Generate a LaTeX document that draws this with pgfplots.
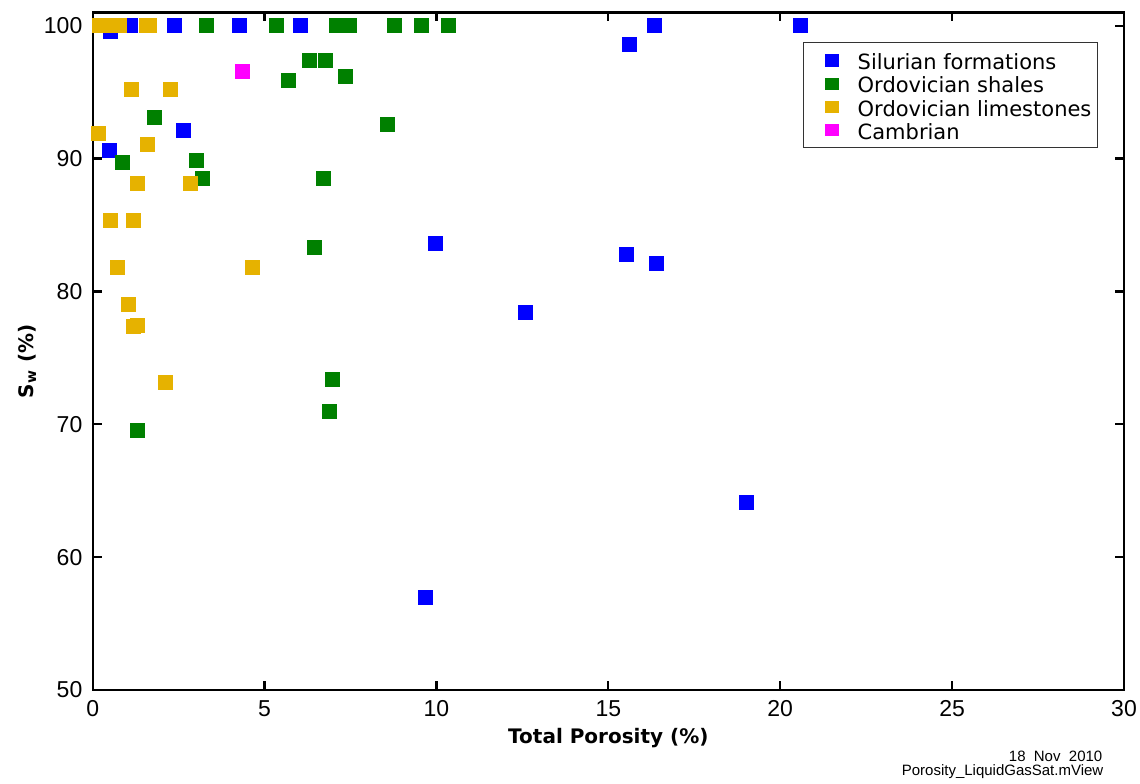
\documentclass[border=0pt]{standalone}
\usepackage{fontspec}
\setmainfont{Liberation Sans}
\newfontfamily\dejavu{DejaVu Sans}
\usepackage{pgfplots}
\pgfplotsset{compat=1.18}
\definecolor{silblue}{RGB}{0,0,255}
\definecolor{ordgreen}{RGB}{0,128,0}
\definecolor{ordorange}{RGB}{230,178,0}
\definecolor{cambmag}{RGB}{255,0,255}
\pgfplotsset{
  sq/.style={only marks, mark=square*, mark size=3.5pt, color=#1,
    mark options={fill=#1, draw=#1, line width=0.3pt},
    legend image code/.code={\path[draw=none,fill=none] (0pt,0pt) -- (22pt,0pt);
      \fill[#1, draw=none] (8.6pt,-3.1pt) rectangle (15.4pt,3.1pt);}},
}
\begin{document}
\begin{tikzpicture}
\useasboundingbox (-46.35pt,-46.5pt) rectangle (523.65pt,345pt);
\begin{axis}[
  at={(0,0)}, anchor=south west,
  scale only axis,
  width=515.65pt, height=338.8pt,
  xmin=0, xmax=30, ymin=50, ymax=101,
  xtick={0,5,...,30}, ytick={50,60,...,100},
  tick align=inside,
  xtick pos=both, ytick pos=both,
  xticklabel pos=lower, yticklabel pos=left,
  major tick length=4.5pt,
  every tick/.style={black, line width=1.1pt},
  axis line style={black, line width=1.2pt},
  /pgf/number format/assume math mode=true,
  tick label style={font=\fontsize{11.5}{12}\selectfont},
  yticklabel style={inner sep=0pt, xshift=-5pt},
  xticklabel style={inner sep=0pt, yshift=-5pt},
  xlabel={\dejavu\bfseries Total Porosity (\%)},
  xlabel style={at={(axis description cs:0.5,0)}, anchor=base, yshift=-26.5pt, inner sep=0pt, font=\fontsize{10}{12}\selectfont},
  ylabel={\dejavu\bfseries S\textsubscript{w} (\%)},
  ylabel style={at={(axis description cs:-0.0637,0.485)}, anchor=center, inner sep=0pt, font=\fontsize{10}{12}\selectfont},
  legend cell align=left,
  legend style={at={(0.9748,0.956)}, anchor=north east, draw=black!80, line width=0.6pt,
    fill=white, font=\dejavu\fontsize{10.5}{12}\selectfont,
    inner xsep=2pt, inner ysep=3.05pt, row sep=0pt, column sep=2pt,
    nodes={inner sep=1pt, text height=9.4pt, text depth=0.2pt}},
]
\addplot[sq=silblue] coordinates {
(0.5,99.6) (1.1,100) (2.37,100) (4.25,100) (6.05,100) (16.35,100) (20.58,100)
(15.62,98.6) (2.64,92.15) (0.47,90.6) (9.98,83.6) (15.51,82.8) (16.39,82.15)
(12.57,78.4) (19.02,64.1) (9.67,57.0)
};
\addlegendentry{Silurian formations}
\addplot[sq=ordgreen] coordinates {
(3.3,100) (5.35,100) (7.1,100) (7.45,100) (8.78,100) (9.56,100) (10.33,100)
(6.3,97.4) (6.77,97.4) (5.68,95.9) (7.34,96.2) (1.8,93.1) (8.57,92.6)
(0.87,89.75) (3.0,89.9) (3.2,88.55) (6.72,88.55) (6.46,83.35) (6.98,73.4)
(6.87,71.0) (1.29,69.55)
};
\addlegendentry{Ordovician shales}
\addplot[sq=ordorange] coordinates {
(0.2,100) (0.4,100) (0.6,100) (0.78,100) (1.55,100) (1.65,100)
(1.13,95.25) (2.27,95.25) (0.15,91.9) (1.6,91.1) (1.29,88.15) (2.84,88.15)
(0.51,85.35) (1.18,85.35) (0.73,81.85) (4.65,81.85) (1.04,79.05)
(1.18,77.35) (1.3,77.45) (2.11,73.15)
};
\addlegendentry{Ordovician limestones}
\addplot[sq=cambmag] coordinates {
(4.34,96.6)
};
\addlegendentry{Cambrian}
\end{axis}
\node[anchor=base east, inner sep=0pt, font=\fontsize{7.5}{9}\selectfont] at (505pt,-35.5pt) {18\ \ Nov\ \ 2010};
\node[anchor=base east, inner sep=0pt, font=\fontsize{7.5}{9}\selectfont] at (505.5pt,-42.5pt) {Porosity\_LiquidGasSat.mView};
\end{tikzpicture}
\end{document}
